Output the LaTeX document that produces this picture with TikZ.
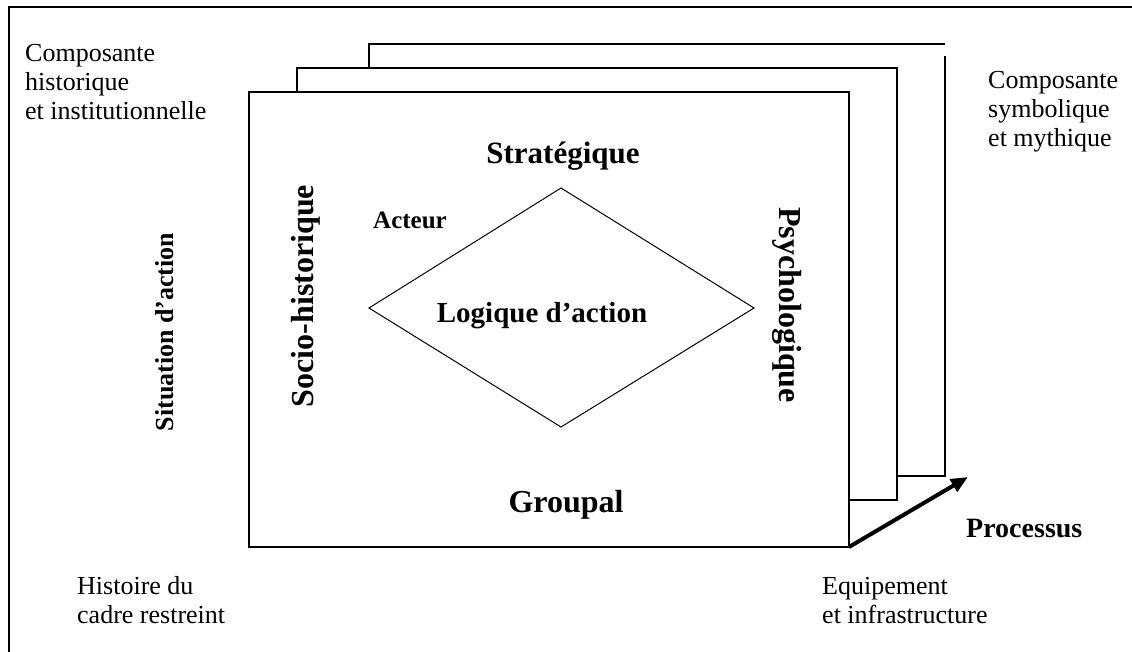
\documentclass[tikz,border=0pt]{standalone}
\usepackage{fontspec}
\setmainfont{Liberation Serif}
\usetikzlibrary{arrows.meta}
\tikzset{
  sidetxt/.style={inner sep=0pt, align=left, anchor=base west,
    font=\fontsize{26}{29}\selectfont},
  boldtxt/.style={inner sep=0pt, anchor=base, font=\bfseries\fontsize{#1}{#1}\selectfont},
  sheet/.style={line width=1.5pt},
}
\begin{document}
\begin{tikzpicture}[x=1pt,y=-1pt]
  \useasboundingbox (0,0) rectangle (1132,652);
  % outer frame
  \draw[line width=2pt] (9,652) -- (9,7) -- (1132,7);
  % sheets, back to front
  \draw[sheet] (369,68) -- (369,44) -- (945,44);
  \draw[sheet] (945,56) -- (945,476) -- (897,476);
  \draw[sheet] (297,92) -- (297,68) -- (897,68) -- (897,500) -- (849,500);
  \draw[sheet] (249,92) rectangle (849,547);
  % diamond
  \coordinate (top) at (561,188);
  \coordinate (left) at (369,308);
  \coordinate (bottom) at (561,427);
  \coordinate (right) at (754,308);
  \draw[line width=1pt] (top) -- (right) -- (bottom) -- (left) -- cycle;
  % labels (base = last line)
  \node[sidetxt] (histinst) at (25,120) {Composante\\historique\\et institutionnelle};
  \node[sidetxt] (symbmyth) at (988,147) {Composante\\symbolique\\et mythique};
  \node[sidetxt] (histoire) at (77,623) {Histoire du\\cadre restreint};
  \node[sidetxt] (equip) at (822,623) {Equipement\\et infrastructure};
  \node[boldtxt=31] (strat) at (563,164) {Stratégique};
  \node[boldtxt=25] (acteur) at (410,229) {Acteur};
  \node[boldtxt=29] (logique) at (542,322) {Logique d’action};
  \node[boldtxt=32] (groupal) at (566,512) {Groupal};
  \node[boldtxt=32, rotate=90] (socio) at (313,296) {Socio-historique};
  \node[boldtxt=32, rotate=-90] (psycho) at (779,305) {Psychologique};
  \node[boldtxt=26, rotate=90] (situation) at (173,332) {Situation d’action};
  \node[boldtxt=28, anchor=base west] (processus) at (966,537) {Processus};
  % process arrow
  \coordinate (corner) at (849,547);
  \coordinate (tip) at (968,477);
  \draw[line width=4pt, -{Triangle[length=17pt,width=14pt]}] (corner) -- (tip);
\end{tikzpicture}
\end{document}
